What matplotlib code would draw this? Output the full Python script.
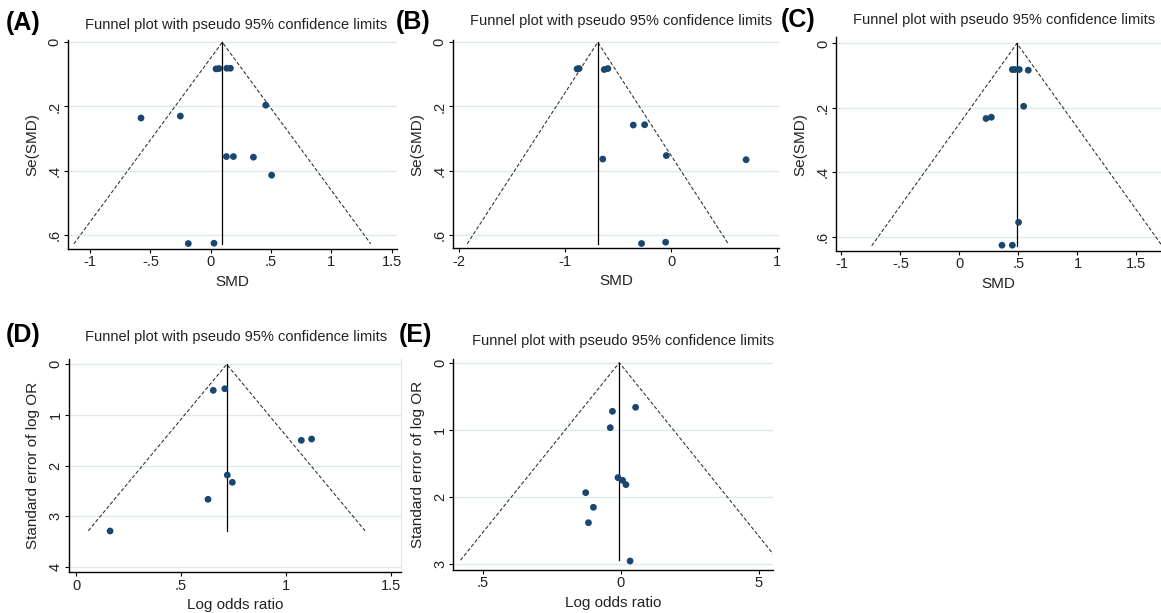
import matplotlib

matplotlib.use("Agg")
import matplotlib.pyplot as plt

plt.rcParams["font.family"] = ["Liberation Sans", "DejaVu Sans"]

W, H = 1161, 613
NAVY = "#1a476f"
GRID = "#dde9ec"
TITLE = "Funnel plot with pseudo 95% confidence limits"

# (A) SMD
a_smd = [0.044, 0.069, 0.133, 0.163, 0.456, -0.578, -0.252, 0.130, 0.188, 0.354, 0.505, -0.186, 0.027]
a_se = [0.083, 0.082, 0.081, 0.081, 0.196, 0.236, 0.230, 0.356, 0.356, 0.358, 0.414, 0.627, 0.626]
a_summary = 0.096
a_funnel = (-1.135, 1.327, 0.628)  # left, right, se at bottom

# (B) SMD
b_smd = [-0.887, -0.868, -0.631, -0.597, -0.357, -0.250, -0.645, -0.045, 0.707, -0.279, -0.052]
b_se = [0.083, 0.082, 0.085, 0.082, 0.258, 0.257, 0.364, 0.353, 0.366, 0.627, 0.623]
b_summary = -0.692
b_funnel = (-1.923, 0.539, 0.628)

# (C) SMD
c_smd = [0.448, 0.470, 0.507, 0.583, 0.544, 0.225, 0.270, 0.501, 0.360, 0.448]
c_se = [0.081, 0.081, 0.081, 0.083, 0.195, 0.233, 0.229, 0.555, 0.626, 0.626]
c_summary = 0.487
c_funnel = (-0.744, 1.718, 0.628)

# (D) log OR
d_lor = [0.653, 0.708, 1.073, 1.122, 0.720, 0.744, 0.628, 0.161]
d_se = [0.514, 0.482, 1.502, 1.476, 2.188, 2.332, 2.668, 3.294]
d_summary = 0.717
d_funnel = (0.057, 1.377, 3.29)

# (E) log OR
e_lor = [-0.31, 0.53, -0.39, -0.11, 0.06, 0.18, -1.28, -1.00, -1.18, 0.33]
e_se = [0.724, 0.664, 0.967, 1.711, 1.751, 1.815, 1.934, 2.152, 2.381, 2.951]
e_summary = -0.06
e_funnel = (-5.82, 5.70, 2.94)

panels = [
    dict(tag="(A)", x=a_smd, se=a_se, summ=a_summary, fun=a_funnel,
         box=(67.7, 396.7, 40, 249), xlim=(-1.186, 1.542), ylim=(0.644, -0.007),
         xt=[-1, -0.5, 0, 0.5, 1, 1.5], xtl=["-1", "-.5", "0", ".5", "1", "1.5"],
         yt=[0, 0.2, 0.4, 0.6], ytl=["0", ".2", ".4", ".6"],
         xl="SMD", yl="Se(SMD)", tagxy=(6, 23), titlexy=(236, 25)),
    dict(tag="(B)", x=b_smd, se=b_se, summ=b_summary, fun=b_funnel,
         box=(452.7, 779.3, 40, 248.3), xlim=(-2.06, 1.02), ylim=(0.642, -0.007),
         xt=[-2, -1, 0, 1], xtl=["-2", "-1", "0", "1"],
         yt=[0, 0.2, 0.4, 0.6], ytl=["0", ".2", ".4", ".6"],
         xl="SMD", yl="Se(SMD)", tagxy=(396, 22), titlexy=(621, 21)),
    dict(tag="(C)", x=c_smd, se=c_se, summ=c_summary, fun=c_funnel,
         box=(836.3, 1161, 37.3, 251), xlim=(-1.044, 1.708), ylim=(0.644, -0.019),
         xt=[-1, -0.5, 0, 0.5, 1, 1.5], xtl=["-1", "-.5", "0", ".5", "1", "1.5"],
         yt=[0, 0.2, 0.4, 0.6], ytl=["0", ".2", ".4", ".6"],
         xl="SMD", yl="Se(SMD)", tagxy=(781, 20), titlexy=(1004, 20)),
    dict(tag="(D)", x=d_lor, se=d_se, summ=d_summary, fun=d_funnel,
         box=(69, 400.7, 359, 572.3), xlim=(-0.035, 1.547), ylim=(4.11, -0.105),
         xt=[0, 0.5, 1, 1.5], xtl=["0", ".5", "1", "1.5"],
         yt=[0, 1, 2, 3, 4], ytl=["0", "1", "2", "3", "4"],
         xl="Log odds ratio", yl="Standard error of log OR", tagxy=(6, 335), titlexy=(236, 337)),
    dict(tag="(E)", x=e_lor, se=e_se, summ=e_summary, fun=e_funnel,
         box=(453.3, 772.7, 359.3, 570), xlim=(-6.08, 5.5), ylim=(3.085, -0.05),
         xt=[-5, 0, 5], xtl=[".5", "0", "5"],
         yt=[0, 1, 2, 3], ytl=["0", "1", "2", "3"],
         xl="Log odds ratio", yl="Standard error of log OR", tagxy=(399, 335), titlexy=(623, 341)),
]

fig = plt.figure(figsize=(W / 100, H / 100), dpi=100, facecolor="white")

for p in panels:
    l, r, t, b = p["box"]
    ax = fig.add_axes([l / W, 1 - b / H, (r - l) / W, (b - t) / H])
    ax.set_xlim(*p["xlim"])
    ax.set_ylim(*p["ylim"])

    for y in p["yt"]:
        ax.axhline(y, color=GRID, lw=1.0, zorder=0)

    left, right, bot = p["fun"]
    ax.plot([left, p["summ"], right], [bot, 0, bot], ls=(0, (3.5, 2)), color="#2a2a2a", lw=0.75)
    ax.plot([p["summ"], p["summ"]], [0, bot], color="black", lw=0.9)
    ax.scatter(p["x"], p["se"], s=24, color=NAVY, edgecolors="none", zorder=3)

    ax.set_xticks(p["xt"])
    ax.set_xticklabels(p["xtl"], fontsize=10.5, color="#222222")
    ax.set_yticks(p["yt"])
    ax.set_yticklabels(p["ytl"], fontsize=10.5, color="#222222", rotation=90, va="center")
    ax.tick_params(length=3, width=0.8, pad=1.5)

    for s in ("top", "right"):
        ax.spines[s].set_visible(False)
    for s in ("left", "bottom"):
        ax.spines[s].set_linewidth(1.0)
    if p["tag"] == "(D)":
        ax.spines["right"].set_visible(True)
        ax.spines["right"].set_color(GRID)

    ax.set_xlabel(p["xl"], fontsize=11, color="#222222", labelpad=4)
    ax.set_ylabel(p["yl"], fontsize=11, color="#222222", labelpad=6)

    tx, ty = p["tagxy"]
    fig.text(tx / W, 1 - ty / H, p["tag"], fontsize=18, fontweight="bold", va="center", ha="left")
    cx, cy = p["titlexy"]
    fig.text(cx / W, 1 - cy / H, TITLE, fontsize=10.5, color="#222222", va="center", ha="center")

fig.savefig("out.png", dpi=100, facecolor="white")
